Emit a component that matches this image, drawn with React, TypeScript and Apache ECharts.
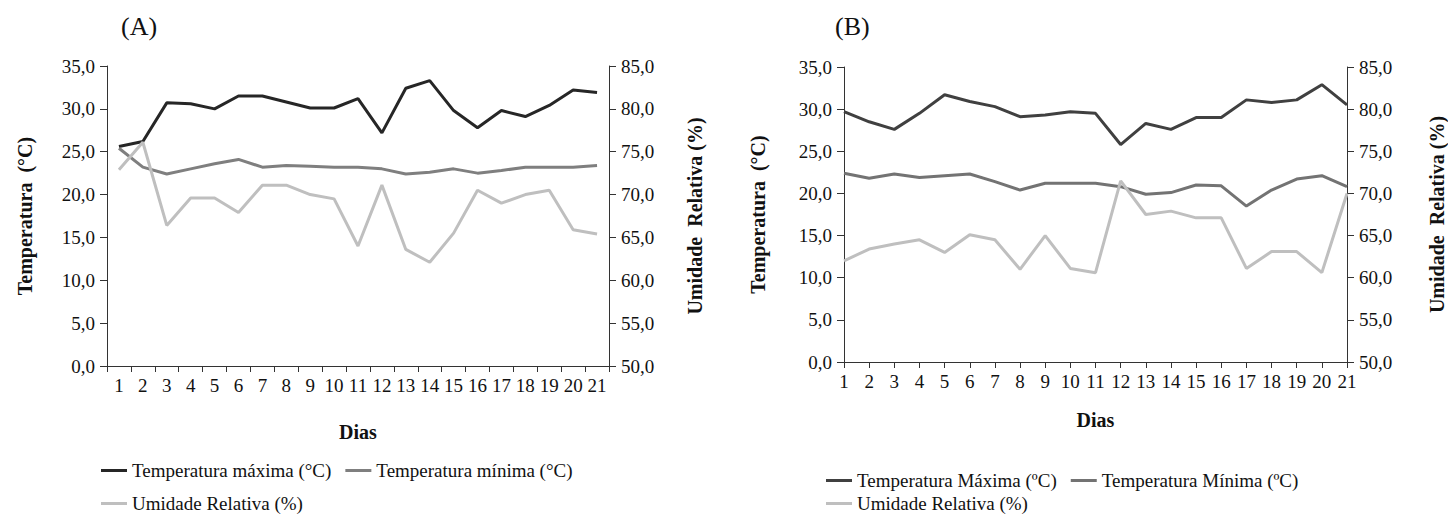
import React, { useEffect, useRef } from "react";
import * as echarts from "echarts";

const days = ["1","2","3","4","5","6","7","8","9","10","11","12","13","14","15","16","17","18","19","20","21"];

const tMaxA = [25.6, 26.2, 30.7, 30.6, 30.0, 31.5, 31.5, 30.8, 30.1, 30.1, 31.2, 27.2, 32.4, 33.3, 29.8, 27.8, 29.8, 29.1, 30.4, 32.2, 31.9];
const tMinA = [25.4, 23.2, 22.4, 23.0, 23.6, 24.1, 23.2, 23.4, 23.3, 23.2, 23.2, 23.0, 22.4, 22.6, 23.0, 22.5, 22.8, 23.2, 23.2, 23.2, 23.4];
const urA = [72.9, 76.1, 66.4, 69.6, 69.6, 67.9, 71.1, 71.1, 70.0, 69.5, 64.0, 71.1, 63.6, 62.1, 65.5, 70.5, 69.0, 70.0, 70.5, 65.9, 65.4];

const tMaxB = [29.7, 28.5, 27.6, 29.5, 31.7, 30.9, 30.3, 29.1, 29.3, 29.7, 29.5, 25.8, 28.3, 27.6, 29.0, 29.0, 31.1, 30.8, 31.1, 32.9, 30.5];
const tMinB = [22.4, 21.8, 22.3, 21.9, 22.1, 22.3, 21.4, 20.4, 21.2, 21.2, 21.2, 20.8, 19.9, 20.1, 21.0, 20.9, 18.5, 20.4, 21.7, 22.1, 20.8];
const urB = [62.0, 63.4, 64.0, 64.5, 63.0, 65.1, 64.5, 61.0, 65.0, 61.1, 60.6, 71.5, 67.5, 67.9, 67.1, 67.1, 61.1, 63.1, 63.1, 60.6, 70.0];

const namesA = ["Temperatura máxima (°C)", "Temperatura mínima (°C)", "Umidade Relativa (%)"];
const namesB = ["Temperatura Máxima (ºC)", "Temperatura Mínima (ºC)", "Umidade Relativa (%)"];

const FONT = "Liberation Serif";
const fmt = (v: number) => v.toFixed(1).replace(".", ",");

export default function App() {
  const ref = useRef<HTMLDivElement>(null);
  useEffect(() => {
    if (!ref.current) return;
    const chart = echarts.init(ref.current, undefined, { renderer: "svg" });
    const axisLine = { show: true, lineStyle: { color: "#333", width: 1 } };
    const axisTick = { show: true, length: 7, inside: false, lineStyle: { color: "#333" } };
    const lbl = { fontFamily: FONT, fontSize: 19, color: "#111" };
    const nameStyle = { fontFamily: FONT, fontSize: 20, fontWeight: "bold", color: "#111" };

    const xAxisBase = (gridIndex: number, boundaryGap: boolean, nameGap: number) => ({
      type: "category",
      gridIndex,
      data: days,
      boundaryGap,
      name: "Dias",
      nameLocation: "middle",
      nameGap,
      nameTextStyle: nameStyle,
      axisLine,
      axisTick: { ...axisTick, length: 6, alignWithLabel: false },
      axisLabel: { ...lbl, margin: 10, interval: 0 },
      splitLine: { show: false },
    });
    const yLeft = (gridIndex: number, nameGap: number) => ({
      type: "value",
      gridIndex,
      position: "left",
      min: 0,
      max: 35,
      interval: 5,
      name: "Temperatura  (°C)",
      nameLocation: "middle",
      nameRotate: 90,
      nameGap,
      nameTextStyle: nameStyle,
      axisLine,
      axisTick,
      axisLabel: { ...lbl, margin: 12, formatter: fmt },
      splitLine: { show: false },
    });
    const yRight = (gridIndex: number, nameGap: number) => ({
      type: "value",
      gridIndex,
      position: "right",
      min: 50,
      max: 85,
      interval: 5,
      name: "Umidade  Relativa (%)",
      nameLocation: "middle",
      nameRotate: 90,
      nameGap,
      nameTextStyle: nameStyle,
      axisLine,
      axisTick,
      axisLabel: { ...lbl, margin: 12, formatter: fmt },
      splitLine: { show: false },
    });
    const line = (name: string, data: number[], color: string, xi: number, yi: number) => ({
      type: "line",
      name,
      data,
      xAxisIndex: xi,
      yAxisIndex: yi,
      symbol: "none",
      showSymbol: false,
      lineStyle: { color, width: 3 },
      itemStyle: { color },
      z: 3,
    });
    const legendBase = {
      icon: "rect",
      itemWidth: 26,
      itemHeight: 3,
      itemGap: 14,
      padding: 0,
      textStyle: { fontFamily: FONT, fontSize: 19, color: "#111" },
      selectedMode: false,
    };

    chart.setOption({
      animation: false,
      backgroundColor: "#fff",
      grid: [
        { left: 107, top: 66, width: 502, height: 300 },
        { left: 844, top: 67, width: 503, height: 295 },
      ],
      xAxis: [xAxisBase(0, true, 56), xAxisBase(1, false, 48)],
      yAxis: [yLeft(0, 72), yRight(0, 76), yLeft(1, 76), yRight(1, 80)],
      legend: [
        { ...legendBase, data: [namesA[0], namesA[1]], left: 101, top: 461 },
        { ...legendBase, data: [namesA[2]], left: 101, top: 494 },
        { ...legendBase, data: [namesB[0], namesB[1]], left: 826, top: 471 },
        { ...legendBase, data: [namesB[2]], left: 826, top: 494 },
      ],
      graphic: [
        { type: "text", left: 121, top: 13, style: { text: "(A)", font: `26px '${FONT}'`, fill: "#111" } },
        { type: "text", left: 835, top: 13, style: { text: "(B)", font: `26px '${FONT}'`, fill: "#111" } },
      ],
      series: [
        line(namesA[0], tMaxA, "#262626", 0, 0),
        line(namesA[1], tMinA, "#7f7f7f", 0, 0),
        line(namesA[2], urA, "#bfbfbf", 0, 1),
        line(namesB[0], tMaxB, "#404040", 1, 2),
        line(namesB[1], tMinB, "#737373", 1, 2),
        line(namesB[2], urB, "#bfbfbf", 1, 3),
      ],
    });
    return () => chart.dispose();
  }, []);
  return (
    <div
      ref={ref}
      style={{ position: "fixed", left: 0, top: 0, width: 1448, height: 518, background: "#fff" }}
    />
  );
}
